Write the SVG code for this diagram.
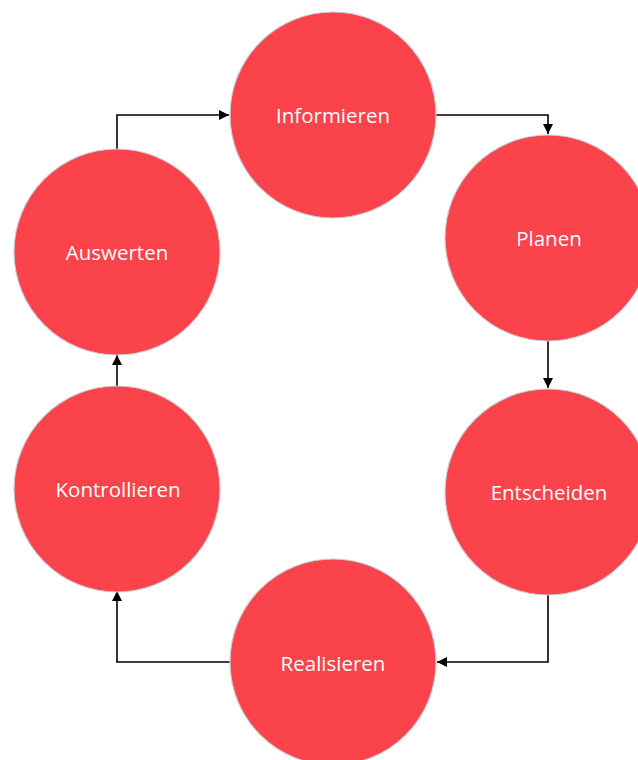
<svg xmlns="http://www.w3.org/2000/svg" width="638" height="760" viewBox="0 0 638 760">
<style>
.n{fill:#FA434A;stroke:#C9CDD4;stroke-width:1.2}
.t{fill:#FFFFFF;font-family:"Open Sans","Noto Sans",sans-serif;font-size:20.5px;text-anchor:middle;dominant-baseline:central}
.c{fill:none;stroke:#000;stroke-width:1.6}
</style>
<defs>
<marker id="a" viewBox="0 0 10 10" refX="10" refY="5" markerWidth="10" markerHeight="10" markerUnits="userSpaceOnUse" orient="auto"><path d="M0,0L10,5L0,10z" fill="#000"/></marker>
</defs>
<rect width="638" height="760" fill="#fff"/>
<g id="connectors">
<path class="c" d="M117,149V115H229" marker-end="url(#a)"/>
<path class="c" d="M436,115H548V134" marker-end="url(#a)"/>
<path class="c" d="M548,341V388" marker-end="url(#a)"/>
<path class="c" d="M548,595V662H437" marker-end="url(#a)"/>
<path class="c" d="M230,662H117V591" marker-end="url(#a)"/>
<path class="c" d="M117,386V355" marker-end="url(#a)"/>
</g>
<g id="informieren"><circle class="n" cx="333" cy="115" r="103"/><text class="t" x="333" y="115">Informieren</text></g>
<g id="planen"><circle class="n" cx="548" cy="238" r="103"/><text class="t" x="549" y="238">Planen</text></g>
<g id="entscheiden"><circle class="n" cx="548" cy="492" r="103"/><text class="t" x="549" y="492">Entscheiden</text></g>
<g id="realisieren"><circle class="n" cx="333" cy="662" r="103"/><text class="t" x="333" y="663">Realisieren</text></g>
<g id="kontrollieren"><circle class="n" cx="117" cy="489" r="103"/><text class="t" x="118" y="489">Kontrollieren</text></g>
<g id="auswerten"><circle class="n" cx="117" cy="252" r="103"/><text class="t" x="117" y="252">Auswerten</text></g>
</svg>
